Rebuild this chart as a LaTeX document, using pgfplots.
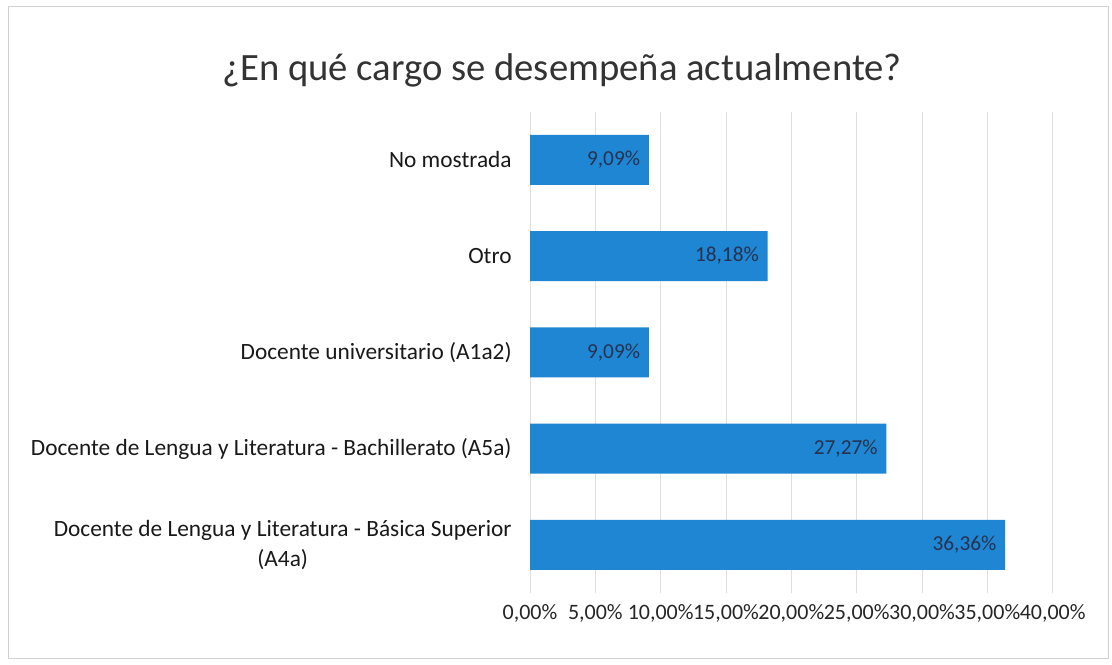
\documentclass[border=0pt]{standalone}
\usepackage{pgfplots}
\pgfplotsset{compat=1.18}
\usepackage{fontspec}
\setmainfont{Carlito}
\definecolor{barblue}{RGB}{30,134,210}
\definecolor{lab}{RGB}{40,50,80}
\begin{document}
\begin{tikzpicture}[x=0.75pt,y=0.75pt]
\path[use as bounding box] (0,0) rectangle (1112,664);
\draw[gray!35] (8,6) rectangle (1108,658);
\node[font=\fontsize{29}{34}\selectfont, text=black!80] at (562,594) {¿En qué cargo se desempeña actualmente?};
\begin{axis}[
  at={(530pt*0.75,71pt*0.75)}, anchor=south west,
  scale only axis,
  width=392pt, height=361pt,
  xbar, xmin=0, xmax=40, ymin=-0.5, ymax=4.5,
  bar width=0.52,
  axis line style={draw=none},
  major tick style={draw=none},
  xmajorgrids, grid style={gray!25},
  xtick={0,5,...,40},
  xticklabel={\pgfmathprintnumber[fixed,fixed zerofill,precision=2,use comma]{\tick}\%},
  /pgf/number format/assume math mode=true,
  xticklabel style={font=\fontsize{16.5}{19}\selectfont, text=black!85, yshift=-5pt},
  ytick={0,1,2,3,4},
  yticklabels={{Docente de Lengua y Literatura - Básica Superior\\(A4a)},{Docente de Lengua y Literatura - Bachillerato (A5a)},{Docente universitario (A1a2)},{Otro},{No mostrada}},
  yticklabel style={font=\fontsize{17.5}{22}\selectfont, text=black!90, align=center, xshift=-6pt},
  nodes near coords={\pgfmathprintnumber[fixed,fixed zerofill,precision=2,use comma]{\pgfplotspointmeta}\%},
  point meta=x,
  nodes near coords style={anchor=east, font=\fontsize{16}{18}\selectfont, text=lab, xshift=-3pt},
]
\addplot[fill=barblue, draw=none] coordinates {(36.36,0) (27.27,1) (9.09,2) (18.18,3) (9.09,4)};
\end{axis}
\end{tikzpicture}
\end{document}
